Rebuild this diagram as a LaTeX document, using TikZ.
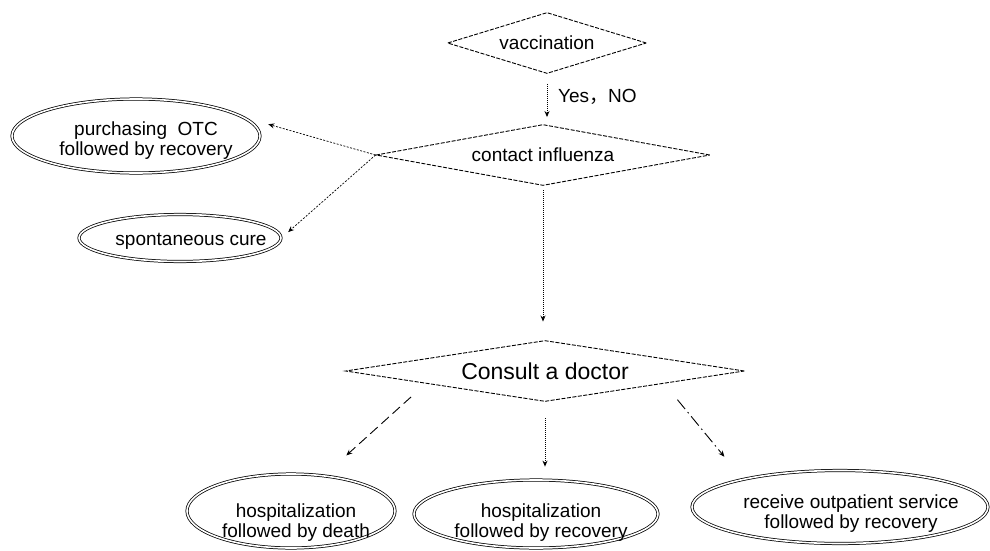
\documentclass[tikz,border=0pt]{standalone}
\usepackage{fontspec}
\setmainfont{Liberation Sans}
\newfontfamily\cjk{Noto Sans CJK SC}
\usetikzlibrary{shapes.geometric,arrows.meta,calc}
\newcommand\ovtext[3]{\makebox[0pt]{\hspace*{#1}\raisebox{-#2}[0pt][0pt]{\begin{tabular}{@{}c@{}}#3\end{tabular}}}}
\begin{document}
\begin{tikzpicture}[x=1pt,y=-1pt,
  decision/.style={diamond, draw, line width=0.9pt, dash pattern=on 4pt off 1.5pt,
    inner sep=0pt, font=\fontsize{19}{22}\selectfont},
  outcome/.style={ellipse, draw, double, double distance=1.6pt, line width=0.75pt,
    inner sep=0pt, font=\fontsize{19}{20}\selectfont},
  tip/.style={-{Stealth[length=6pt,width=5pt]}},
  dotline/.style={tip, line width=0.9pt, dash pattern=on 1pt off 1pt},
  fineline/.style={tip, line width=0.7pt, dash pattern=on 2pt off 1.5pt},
  longdash/.style={tip, line width=0.9pt, dash pattern=on 10pt off 5pt},
  dashdot/.style={tip, line width=0.9pt, dash pattern=on 12pt off 4pt on 1.5pt off 4pt},
  lbl/.style={font=\fontsize{19}{22}\selectfont, inner sep=0pt}]
\useasboundingbox (0,0) rectangle (990,551);

% decisions
\node[decision, aspect=3.26, minimum width=199pt, minimum height=61pt] (vacc) at (547,43) {vaccination};
\node[decision, aspect=5.48, minimum width=334pt, minimum height=61pt] (contact) at (543,155) {contact influenza};
\node[decision, aspect=6.54, minimum width=399pt, minimum height=61pt, font=\fontsize{23}{26}\selectfont] (consult) at (545,371) {Consult a doctor};

% outcomes
\node[outcome, minimum width=248pt, minimum height=74pt] (otc) at (136,136)
  {\ovtext{20pt}{9.75pt}{purchasing\ \ OTC\\followed by recovery}};
\node[outcome, minimum width=202pt, minimum height=47pt] (spont) at (180,238)
  {\ovtext{22pt}{7.75pt}{spontaneous cure}};
\node[outcome, minimum width=208pt, minimum height=74pt] (death) at (291,511)
  {\ovtext{10pt}{16.75pt}{hospitalization\\followed by death}};
\node[outcome, minimum width=244pt, minimum height=68pt] (recov) at (536,514)
  {\ovtext{10pt}{13.75pt}{hospitalization\\followed by recovery}};
\node[outcome, minimum width=296pt, minimum height=73pt] (outp) at (840,507)
  {\ovtext{22pt}{11.75pt}{receive outpatient service\\followed by recovery}};

% label
\node[lbl, anchor=west] (yesno) at (558,97) {Yes{\cjk ，}NO};

% connectors
\draw[dotline, shorten <=10pt, shorten >=7pt] (vacc.south) -- (vacc.south |- contact.north);
\draw[fineline, shorten >=26pt] (contact.west) -- (otc.10);
\draw[fineline, shorten >=9pt] (contact.west) -- (spont.east);
\draw[dotline, shorten <=4.5pt, shorten >=18.5pt] (contact.south) -- (contact.south |- consult.north);
\draw[longdash, shorten <=20pt, shorten >=30pt] (consult.186) -- (death.47);
\draw[dotline, shorten <=16.5pt, shorten >=13pt] (consult.south) -- (consult.south |- recov.north);
\draw[dashdot, shorten <=21pt, shorten >=29pt] (consult.354) -- (outp.164);
\end{tikzpicture}
\end{document}
